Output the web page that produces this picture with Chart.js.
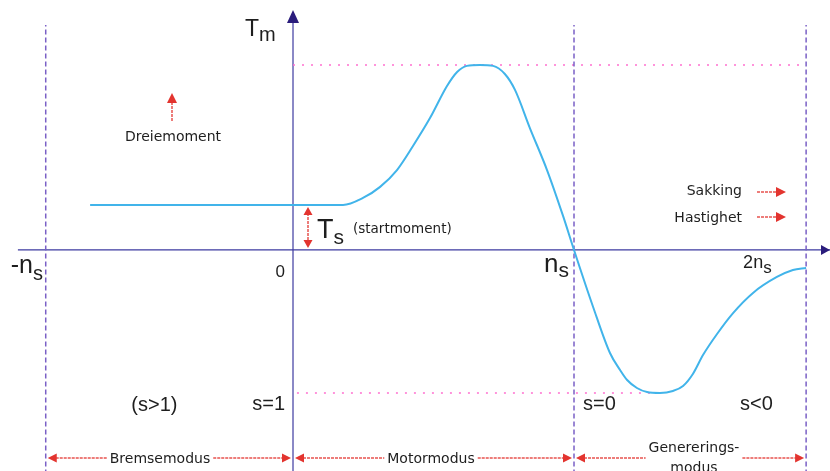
<!DOCTYPE html>
<html lang="no">
<head>
<meta charset="utf-8">
<title>Moment–turtall for asynkronmaskin</title>
<script src="https://cdn.jsdelivr.net/npm/chart.js@4/dist/chart.umd.min.js"></script>
<style>
  html, body { margin: 0; padding: 0; background: #fff; }
  #graf { display: block; }
</style>
</head>
<body>
<canvas id="graf" width="830" height="471"></canvas>
<script>
// Turtall i enheter av synkront turtall ns, moment i enheter av maks moment
const turtall = [-0.722, 0.178, 0.249, 0.310, 0.370, 0.427, 0.488, 0.548, 0.584, 0.619, 0.665, 0.712, 0.754, 0.790,
                 0.843, 0.904, 0.961, 1.0, 1.068, 1.128, 1.164, 1.189, 1.224, 1.260, 1.306, 1.352, 1.388, 1.423,
                 1.459, 1.509, 1.566, 1.637, 1.722, 1.779, 1.826];
const moment = [0.243, 0.243, 0.281, 0.341, 0.432, 0.562, 0.714, 0.886, 0.962, 0.995, 1.0, 0.995, 0.951, 0.865,
                0.659, 0.432, 0.184, 0, -0.308, -0.557, -0.649, -0.703, -0.746, -0.768, -0.773, -0.762, -0.735, -0.670,
                -0.568, -0.454, -0.341, -0.232, -0.146, -0.108, -0.097];

// Grenser mellom driftsområdene (-ns, 0, ns, 2ns) og etikettene på aksen
const grenser = [-0.88, 0, 1.0, 1.826];
const aksetekst = ['-n', '0', 'n', '2n'];
const aksetekstIndeks = ['s', '', 's', 's'];
const slipptekst = ['(s>1)', 's=1', 's=0', 's<0'];
const moduser = ['Bremsemodus', 'Motormodus', 'Genererings-|modus'];

// Maks moment, kipp-moment som generator og startmoment
const maksMoment = 1.0;
const minMoment = -0.773;
const startMoment = 0.243;

const liten = '"DejaVu Sans", Verdana, sans-serif';
const stor = '"Liberation Sans", Arial, sans-serif';
const rod = '#e3342f';

const linje = (x1, y1, x2, y2) => [{ x: x1, y: y1 }, { x: x2, y: y2 }];

const datasett = [
    {
        data: turtall.map((t, i) => ({ x: t, y: moment[i] })),
        borderColor: '#41b4ea',
        borderWidth: 2,
        cubicInterpolationMode: 'monotone',
        pointRadius: 0,
    },
];

// Stiplede grenselinjer for -ns, ns og 2ns
[grenser[0], grenser[2], grenser[3]].forEach((g) => {
    datasett.push({
        data: linje(g, -1.3, g, 1.216),
        borderColor: '#7a60c6',
        borderWidth: 1.5,
        borderDash: [5, 3],
        pointRadius: 0,
    });
});

// Prikkede hjelpelinjer for maks og min moment
datasett.push({
    data: linje(0, maksMoment, grenser[3], maksMoment),
    borderColor: '#ff70d0',
    borderWidth: 1.5,
    borderDash: [2, 7],
    pointRadius: 0,
});
datasett.push({
    data: linje(0.014, minMoment, 1.288, minMoment),
    borderColor: '#ff70d0',
    borderWidth: 1.5,
    borderDash: [2, 7],
    pointRadius: 0,
});

// Aksene
datasett.push({ data: linje(-0.979, 0, 1.92, 0), borderColor: '#3d3aa0', borderWidth: 1.2, pointRadius: 0 });
datasett.push({ data: linje(0, -1.3, 0, 1.28), borderColor: '#3d3aa0', borderWidth: 1.2, pointRadius: 0 });

// Tegnehjelpere
const skriv = (ctx, t, x, y, str, align = 'left', familie = liten) => {
    ctx.font = `${str}px ${familie}`;
    ctx.textAlign = align;
    ctx.textBaseline = 'alphabetic';
    ctx.fillStyle = '#1e1e1e';
    ctx.fillText(t, x, y);
};

const medIndeks = (ctx, t, ind, x, y, str, indStr, ned) => {
    ctx.font = `${str}px ${stor}`;
    const b = ctx.measureText(t).width;
    skriv(ctx, t, x, y, str, 'left', stor);
    if (ind) skriv(ctx, ind, x + b, y + ned, indStr, 'left', stor);
};

const pilhode = (ctx, x, y, retning, farge, lengde = 9, halv = 4.5) => {
    const [dx, dy] = { opp: [0, -1], ned: [0, 1], hoyre: [1, 0], venstre: [-1, 0] }[retning];
    ctx.fillStyle = farge;
    ctx.beginPath();
    ctx.moveTo(x, y);
    ctx.lineTo(x - dx * lengde - dy * halv, y - dy * lengde - dx * halv);
    ctx.lineTo(x - dx * lengde + dy * halv, y - dy * lengde + dx * halv);
    ctx.closePath();
    ctx.fill();
};

const skaft = (ctx, x1, y1, x2, y2) => {
    ctx.save();
    ctx.strokeStyle = rod;
    ctx.globalAlpha = 0.85;
    ctx.lineWidth = 1.5;
    ctx.setLineDash([3, 1]);
    ctx.beginPath();
    ctx.moveTo(x1, y1);
    ctx.lineTo(x2, y2);
    ctx.stroke();
    ctx.restore();
};

const merkingPlugin = {
    id: 'merking',
    afterDatasetsDraw(chart) {
        const ctx = chart.ctx;
        const sx = chart.scales.x;
        const sy = chart.scales.y;
        const px = grenser.map((g) => sx.getPixelForValue(g));
        const y0 = sy.getPixelForValue(0);
        const x0 = px[1];

        ctx.save();

        // Pilspisser på aksene
        pilhode(ctx, x0, 10, 'opp', '#2a1c7c', 13, 6);
        pilhode(ctx, chart.width, y0, 'hoyre', '#2a1c7c', 9, 5);

        // Aksetittel
        medIndeks(ctx, 'T', 'm', x0 - 48, 36, 23, 20, 5);

        // Etiketter på turtallsaksen
        medIndeks(ctx, aksetekst[0], aksetekstIndeks[0], px[0] - 35, y0 + 23, 25, 20, 7);
        skriv(ctx, aksetekst[1], x0 - 8, y0 + 27, 17, 'right', stor);
        medIndeks(ctx, aksetekst[2], aksetekstIndeks[2], px[2] - 30, y0 + 22, 26, 21, 5);
        medIndeks(ctx, aksetekst[3], aksetekstIndeks[3], px[3] - 63, y0 + 18, 18, 17, 5);

        // Slipp
        const ySlipp = sy.getPixelForValue(minMoment) + 17;
        skriv(ctx, slipptekst[0], (px[0] + x0) / 2 - 15, ySlipp + 1, 20, 'center', stor);
        skriv(ctx, slipptekst[1], x0 - 8, ySlipp, 20, 'right', stor);
        skriv(ctx, slipptekst[2], px[2] + 9, ySlipp, 20, 'left', stor);
        skriv(ctx, slipptekst[3], px[3] - 66, ySlipp, 20, 'left', stor);

        // Startmoment
        const yTs = sy.getPixelForValue(startMoment);
        skaft(ctx, x0 + 15, yTs + 8, x0 + 15, y0 - 8);
        pilhode(ctx, x0 + 15, yTs + 2, 'opp', rod, 8, 4.5);
        pilhode(ctx, x0 + 15, y0 - 2, 'ned', rod, 8, 4.5);
        medIndeks(ctx, 'T', 's', x0 + 24, y0 - 12, 27, 21, 6);
        skriv(ctx, '(startmoment)', x0 + 60, y0 - 17, 13.5);

        // Dreiemoment
        skaft(ctx, 172, 121, 172, 100);
        pilhode(ctx, 172, 93, 'opp', rod, 10, 5);
        skriv(ctx, 'Dreiemoment', 173, 141, 14, 'center');

        // Sakking og hastighet
        skriv(ctx, 'Sakking', 742, 195, 14, 'right');
        skriv(ctx, 'Hastighet', 742, 222, 14, 'right');
        [192, 217].forEach((y) => {
            skaft(ctx, 757, y, 777, y);
            pilhode(ctx, 786, y, 'hoyre', rod, 10, 5);
        });

        // Driftsområder nederst
        const yMod = 458;
        const omrader = [[px[0], x0], [x0, px[2]], [px[2], px[3]]];
        const midter = [160, 431, 694];
        omrader.forEach(([a, b], i) => {
            const venstre = a + 2;
            const hoyre = b - 2;
            const linjer = moduser[i].split('|');
            const midt = midter[i];
            ctx.font = `14px ${liten}`;
            const bredde = Math.max(...linjer.map((l) => ctx.measureText(l).width));
            skaft(ctx, venstre + 8, yMod, midt - bredde / 2 - 3, yMod);
            skaft(ctx, midt + bredde / 2 + 3, yMod, hoyre - 8, yMod);
            pilhode(ctx, venstre, yMod, 'venstre', rod, 9, 4.5);
            pilhode(ctx, hoyre, yMod, 'hoyre', rod, 9, 4.5);
            if (linjer.length === 1) {
                skriv(ctx, linjer[0], midt, yMod + 5, 14, 'center');
            } else {
                skriv(ctx, linjer[0], midt, yMod - 6, 14, 'center');
                skriv(ctx, linjer[1], midt, yMod + 14, 14, 'center');
            }
        });

        ctx.restore();
    },
};

new Chart(document.getElementById('graf'), {
    type: 'line',
    data: { datasets: datasett },
    options: {
        responsive: false,
        animation: false,
        layout: { padding: 0 },
        scales: {
            x: { type: 'linear', min: -1.0427, max: 1.911, display: false },
            y: { type: 'linear', min: -1.1946, max: 1.351, display: false },
        },
        plugins: {
            legend: { display: false },
            tooltip: { enabled: false },
        },
    },
    plugins: [merkingPlugin],
});
</script>
</body>
</html>
